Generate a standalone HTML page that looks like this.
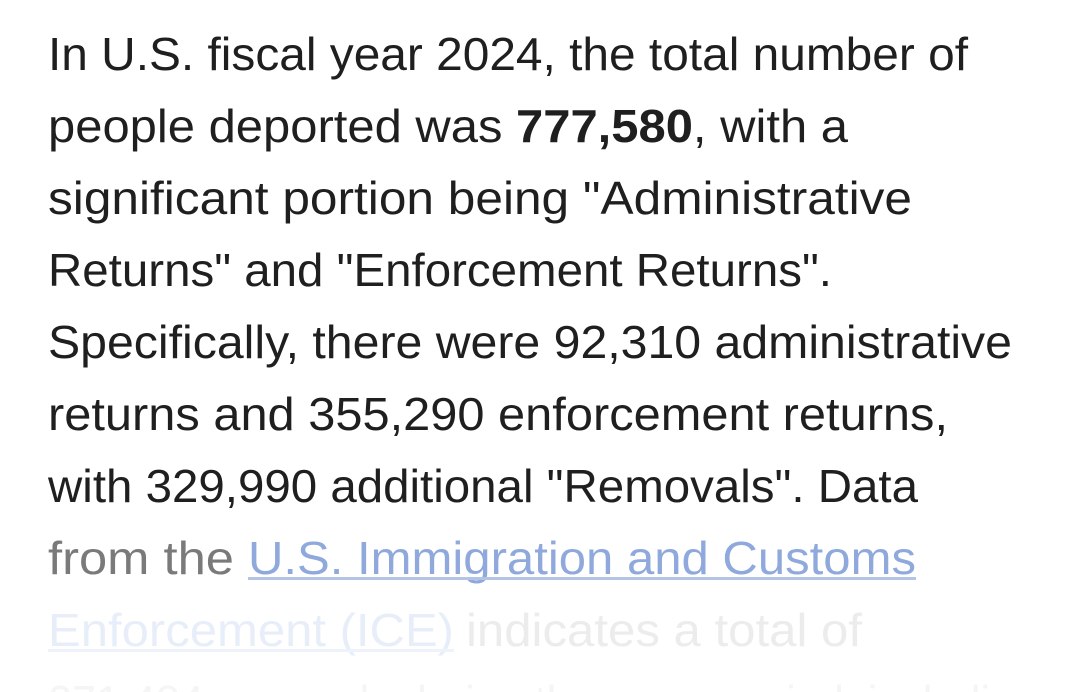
<!DOCTYPE html>
<html><head><meta charset="utf-8"><style>
html,body{margin:0;padding:0;background:#fff;width:1080px;height:692px;overflow:hidden}
svg{display:block;overflow:hidden}
text{font-family:"Liberation Sans",sans-serif;font-size:46px}
</style></head><body>
<svg width="1080" height="692" xmlns="http://www.w3.org/2000/svg">
<g fill="#1f1f1f">
<text x="48" y="70" textLength="920" lengthAdjust="spacingAndGlyphs">In U.S. fiscal year 2024, the total number of</text>
<text x="48" y="142" textLength="800" lengthAdjust="spacingAndGlyphs">people deported was <tspan font-weight="bold">777,580</tspan>, with a</text>
<text x="48" y="214" textLength="864" lengthAdjust="spacingAndGlyphs">significant portion being "Administrative</text>
<text x="48" y="286" textLength="784" lengthAdjust="spacingAndGlyphs">Returns" and "Enforcement Returns".</text>
<text x="48" y="358" textLength="964" lengthAdjust="spacingAndGlyphs">Specifically, there were 92,310 administrative</text>
<text x="48" y="430" textLength="900" lengthAdjust="spacingAndGlyphs">returns and 355,290 enforcement returns,</text>
<text x="48" y="502" textLength="870" lengthAdjust="spacingAndGlyphs">with 329,990 additional "Removals". Data</text>
</g>
<text x="48" y="574" fill="#7a7a7a" textLength="186" lengthAdjust="spacingAndGlyphs">from the</text>
<text x="248" y="574" fill="#8fa9dc" textLength="668" lengthAdjust="spacingAndGlyphs">U.S. Immigration and Customs</text>
<rect x="248" y="577" width="668" height="3" fill="#b4c4e4"/>
<text x="48" y="646" fill="#e8eef9" textLength="406" lengthAdjust="spacingAndGlyphs">Enforcement (ICE)</text>
<rect x="48" y="649" width="406" height="3" fill="#eef2fa"/>
<text x="466" y="646" fill="#ececec" textLength="396" lengthAdjust="spacingAndGlyphs">indicates a total of</text>
<text x="48" y="718" fill="#f5f5f5" textLength="990" lengthAdjust="spacingAndGlyphs">271,484 removals during the same period, including</text>
</svg>
</body></html>
